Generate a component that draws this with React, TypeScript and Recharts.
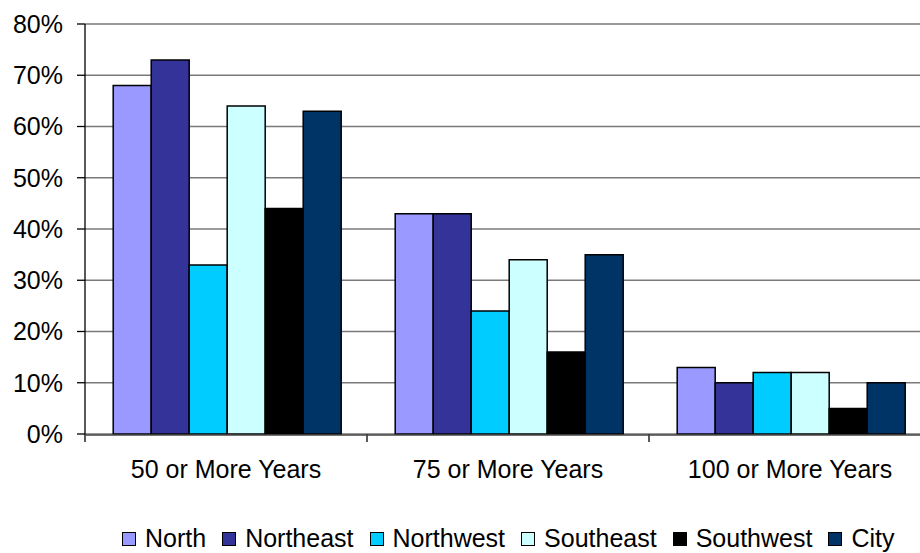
import { BarChart, Bar, XAxis, YAxis, CartesianGrid, Legend } from "recharts";

const categories = ["50 or More Years", "75 or More Years", "100 or More Years"];
const north = [68, 43, 13];
const northeast = [73, 43, 10];
const northwest = [33, 24, 12];
const southeast = [64, 34, 12];
const southwest = [44, 16, 5];
const city = [63, 35, 10];
const yTicks = [0, 10, 20, 30, 40, 50, 60, 70, 80];
const boundaryTicks = [0, 1, 2, 3];

const seriesList = [
  { key: "north", name: "North", color: "#9999FF", values: north },
  { key: "northeast", name: "Northeast", color: "#333399", values: northeast },
  { key: "northwest", name: "Northwest", color: "#00CCFF", values: northwest },
  { key: "southeast", name: "Southeast", color: "#CCFFFF", values: southeast },
  { key: "southwest", name: "Southwest", color: "#000000", values: southwest },
  { key: "city", name: "City", color: "#003366", values: city },
];

const data = categories.map((c, i) => {
  const row: Record<string, string | number> = { category: c, idx: i + 0.5 };
  seriesList.forEach((s) => {
    row[s.key] = s.values[i];
  });
  return row;
});

const font = "'Liberation Sans', Arial, sans-serif";

function LegendContent() {
  return (
    <div
      style={{
        display: "flex",
        alignItems: "center",
        fontFamily: font,
        fontSize: 25,
        color: "#000",
      }}
    >
      {seriesList.map((s) => (
        <div
          key={s.key}
          style={{ display: "flex", alignItems: "center", marginRight: 16 }}
        >
          <span
            style={{
              display: "inline-block",
              width: 12,
              height: 12,
              background: s.color,
              border: "1.5px solid #000",
              marginRight: 9,
            }}
          />
          <span>{s.name}</span>
        </div>
      ))}
    </div>
  );
}

export default function App() {
  return (
    <div
      style={{
        position: "absolute",
        left: 0,
        top: 0,
        width: 920,
        height: 553,
        overflow: "hidden",
        background: "#fff",
      }}
    >
      <BarChart
        width={940}
        height={553}
        data={data}
        margin={{ top: 24, right: 9, bottom: 78, left: 0 }}
        barCategoryGap="10%"
        barGap={0}
      >
        <CartesianGrid
          vertical={false}
          stroke="#7a7a7a"
          strokeWidth={1.3}
          yAxisId="y"
          xAxisId="cat"
        />
        <XAxis
          xAxisId="bound"
          type="number"
          dataKey="idx"
          domain={[0, 3]}
          ticks={boundaryTicks}
          interval={0}
          tickFormatter={() => ""}
          tick={{ fill: "transparent" }}
          tickSize={8}
          height={1}
          axisLine={false}
          tickLine={{ stroke: "#000", strokeWidth: 1.3 }}
        />
        <XAxis
          xAxisId="cat"
          dataKey="category"
          height={40}
          tickSize={0}
          tickMargin={25}
          axisLine={{ stroke: "#444", strokeWidth: 1.5 }}
          tickLine={false}
          tick={{ fill: "#000", fontSize: 25, fontFamily: font }}
          interval={0}
        />
        <YAxis
          yAxisId="y"
          width={85}
          domain={[0, 80]}
          ticks={yTicks}
          tickFormatter={(v: number) => `${v}%`}
          tickSize={8}
          tickMargin={14}
          axisLine={{ stroke: "#000", strokeWidth: 1.3 }}
          tickLine={{ stroke: "#000", strokeWidth: 1.3 }}
          tick={{ fill: "#000", fontSize: 25, fontFamily: font }}
        />
        <Legend
          verticalAlign="middle"
          align="center"
          content={<LegendContent />}
          wrapperStyle={{ position: "absolute", top: 524, left: 122, width: 800 }}
        />
        {seriesList.map((s) => (
          <Bar
            key={s.key}
            dataKey={s.key}
            name={s.name}
            fill={s.color}
            stroke="#000"
            strokeWidth={1.5}
            xAxisId="cat"
            yAxisId="y"
            isAnimationActive={false}
          />
        ))}
      </BarChart>
    </div>
  );
}
